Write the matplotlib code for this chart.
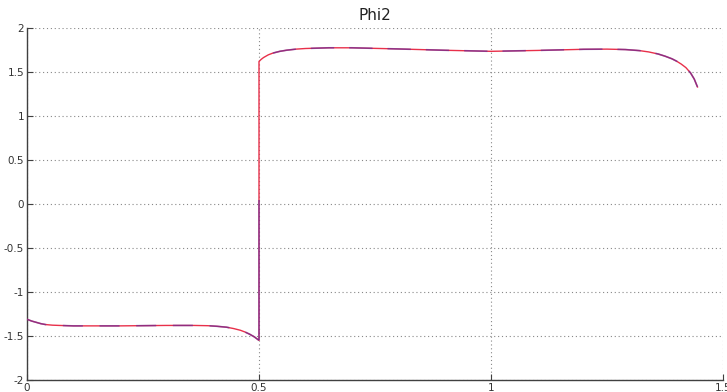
import numpy as np
import matplotlib.pyplot as plt

# Phi2 trajectory, before and after the switch at t = 0.5
t_before = [0.00, 0.01, 0.02, 0.03, 0.04, 0.055, 0.07, 0.10, 0.20, 0.30, 0.36, 0.39, 0.41,
            0.43, 0.445, 0.46, 0.47, 0.48, 0.49, 0.50]
phi_before = [-1.31, -1.33, -1.345, -1.36, -1.37, -1.377, -1.38, -1.385, -1.385, -1.38, -1.38,
              -1.383, -1.39, -1.40, -1.415, -1.435, -1.455, -1.48, -1.51, -1.55]

t_after = [0.50, 0.505, 0.51, 0.52, 0.53, 0.545, 0.56, 0.58, 0.60, 0.65, 0.70, 0.80, 0.90,
           1.00, 1.10, 1.20, 1.25, 1.29, 1.32, 1.34, 1.36, 1.375, 1.39, 1.40, 1.41, 1.42,
           1.43, 1.438, 1.445]
phi_after = [1.62, 1.645, 1.665, 1.695, 1.715, 1.735, 1.748, 1.76, 1.767, 1.775, 1.775, 1.762,
             1.747, 1.735, 1.745, 1.758, 1.76, 1.755, 1.743, 1.728, 1.705, 1.68, 1.65, 1.623,
             1.59, 1.55, 1.49, 1.42, 1.33]

# the second trace only runs part way up the jump
jump_top = 0.04

xticks = [0, 0.5, 1, 1.5]
xlabels = ["0", "0.5", "1", "1.5"]
yticks = [-2, -1.5, -1, -0.5, 0, 0.5, 1, 1.5, 2]
ylabels = ["-2", "-1.5", "-1", "-0.5", "0", "0.5", "1", "1.5", "2"]

t = np.array(t_before + t_after)
phi = np.array(phi_before + phi_after)

fig = plt.figure(figsize=(7.27, 3.92), dpi=100)
ax = fig.add_axes([27 / 727, 12 / 392, 696 / 727, 352 / 392])

ax.plot(t, phi, color="#e8304a", lw=1.0, zorder=3)

blue = dict(color="#5a2aa0", lw=1.2, alpha=0.6, zorder=4)
ax.plot(t_before, phi_before, ls=(0, (12, 10)), **blue)
ax.plot([t_before[-1], t_before[-1]], [phi_before[-1], jump_top], solid_capstyle="butt", **blue)
ax.plot(t_after[4:], phi_after[4:], ls=(0, (14, 9)), **blue)

ax.set_xlim(0, 1.5)
ax.set_ylim(-2, 2)
ax.set_xticks(xticks, xlabels)
ax.set_yticks(yticks, ylabels)
ax.grid(True, color="#888888", ls=(0, (1, 2.5)), lw=0.8)

for side in ("top", "right"):
    ax.spines[side].set_visible(False)
for side in ("left", "bottom"):
    ax.spines[side].set_color("#404040")
    ax.spines[side].set_linewidth(1.0)

ax.tick_params(direction="in", length=4, color="#404040", labelsize=7.5,
               labelcolor="#333333", pad=2)
ax.set_title("Phi2", fontsize=11, color="#222222", pad=6)

fig.savefig("out.png", dpi=100)
